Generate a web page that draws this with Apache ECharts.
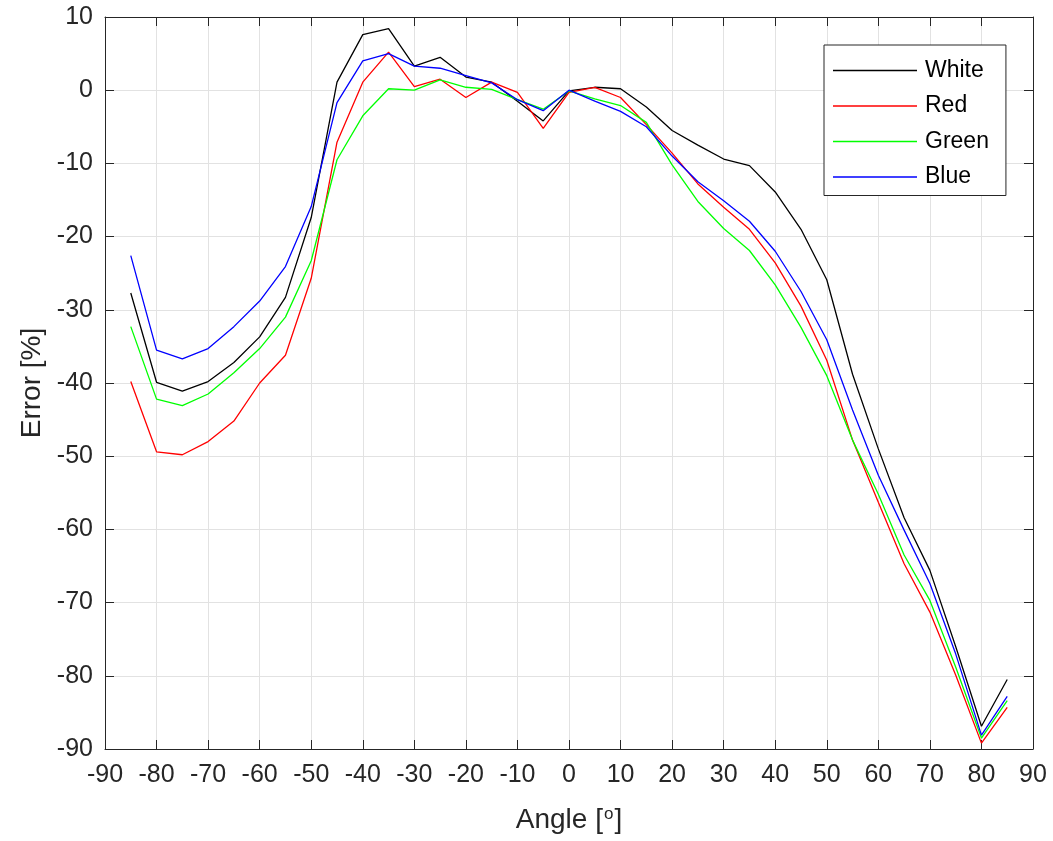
<!DOCTYPE html>
<html>
<head>
<meta charset="utf-8">
<script src="https://cdn.jsdelivr.net/npm/echarts@6/dist/echarts.min.js"></script>
<style>
html,body{margin:0;padding:0;background:#fff;}
#chart{width:1053px;height:841px;}
</style>
</head>
<body>
<div id="chart"></div>
<script>
var angles = [-85,-80,-75,-70,-65,-60,-55,-50,-45,-40,-35,-30,-25,-20,-15,-10,-5,0,5,10,15,20,25,30,35,40,45,50,55,60,65,70,75,80,85];
var white = [-27.7,-39.9,-41.1,-39.8,-37.2,-33.7,-28.3,-17.4,1.1,7.6,8.4,3.3,4.5,1.8,1.1,-1.5,-4.2,-0.1,0.4,0.2,-2.3,-5.5,-7.5,-9.4,-10.3,-13.9,-19.0,-25.9,-38.8,-49.0,-58.4,-65.6,-76.0,-86.9,-80.5];
var red = [-39.8,-49.4,-49.8,-48.0,-45.2,-40.0,-36.2,-25.7,-7.1,1.1,5.2,0.5,1.5,-1.0,1.1,-0.3,-5.2,-0.3,0.4,-1.0,-4.7,-8.6,-12.8,-16.0,-19.0,-23.6,-29.5,-36.9,-47.8,-56.3,-64.7,-71.3,-79.9,-89.2,-84.3];
var green = [-32.3,-42.2,-43.1,-41.5,-38.6,-35.3,-31.0,-23.3,-9.5,-3.5,0.2,0.0,1.4,0.4,0.1,-1.3,-2.6,-0.1,-1.2,-2.1,-4.4,-10.2,-15.2,-18.9,-21.9,-26.6,-32.4,-39.0,-47.8,-55.2,-63.5,-69.7,-78.8,-88.5,-83.4];
var blue = [-22.6,-35.5,-36.7,-35.3,-32.3,-28.8,-24.1,-15.9,-1.7,4.0,5.0,3.3,3.0,2.0,1.0,-1.3,-2.8,0.0,-1.5,-2.9,-5.0,-9.0,-12.5,-15.1,-17.9,-22.0,-27.5,-34.1,-43.7,-52.6,-60.1,-67.4,-77.0,-88.1,-82.8];
var seriesNames = ['White','Red','Green','Blue'];
var seriesColors = ['#000000','#ff0000','#00ff00','#0000ff'];
var seriesValues = [white, red, green, blue];

var FONT = '"Liberation Sans", Arial, Helvetica, sans-serif';
var AXC = '#262626';

function pairs(vals){ return angles.map(function(a,i){ return [a, vals[i]]; }); }

var chart = echarts.init(document.getElementById('chart'), null, {renderer:'canvas'});
var baseX = {type:'value', min:-90, max:90, interval:10};
var baseY = {type:'value', min:-90, max:10, interval:10};
var option = {
  backgroundColor:'#ffffff',
  animation:false,
  grid:{left:105, right:20, top:17, bottom:92, containLabel:false},
  xAxis:[
    Object.assign({}, baseX, {
      position:'bottom',
      name:'{t|Angle [}{s|o}{t|]}', nameLocation:'middle', nameGap:57,
      nameTextStyle:{rich:{t:{fontFamily:FONT,fontSize:28,color:AXC}, s:{fontFamily:FONT,fontSize:17,color:AXC,padding:[0,1,12,1]}}},
      axisLine:{show:true, onZero:false, lineStyle:{color:AXC,width:1}},
      axisTick:{show:true, inside:true, length:9, lineStyle:{color:AXC}},
      axisLabel:{fontFamily:FONT, fontSize:25, color:AXC, margin:14},
      splitLine:{show:true, lineStyle:{color:'#e2e2e2', width:1}}
    }),
    Object.assign({}, baseX, {
      position:'top',
      axisLine:{show:true, onZero:false, lineStyle:{color:AXC,width:1}},
      axisTick:{show:true, inside:true, length:9, lineStyle:{color:AXC}},
      axisLabel:{show:false},
      splitLine:{show:false}
    })
  ],
  yAxis:[
    Object.assign({}, baseY, {
      position:'left',
      name:'Error [%]', nameLocation:'middle', nameGap:56, nameRotate:90,
      nameTextStyle:{fontFamily:FONT, fontSize:28, color:AXC},
      axisLine:{show:true, onZero:false, lineStyle:{color:AXC,width:1}},
      axisTick:{show:true, inside:true, length:9, lineStyle:{color:AXC}},
      axisLabel:{fontFamily:FONT, fontSize:25, color:AXC, margin:12},
      splitLine:{show:true, lineStyle:{color:'#e2e2e2', width:1}}
    }),
    Object.assign({}, baseY, {
      position:'right',
      axisLine:{show:true, onZero:false, lineStyle:{color:AXC,width:1}},
      axisTick:{show:true, inside:true, length:9, lineStyle:{color:AXC}},
      axisLabel:{show:false},
      splitLine:{show:false}
    })
  ],
  legend:{
    show:true, orient:'vertical', left:824, top:45,
    data:seriesNames.map(function(n){ return {name:n, icon:'rect'}; }),
    itemWidth:84, itemHeight:1.5, itemGap:12.5,
    padding:[14,17,7,9],
    borderColor:AXC, borderWidth:1, backgroundColor:'#ffffff',
    textStyle:{fontFamily:FONT, fontSize:23, color:'#000', lineHeight:23, padding:[0,0,0,3]}
  },
  series: seriesNames.map(function(n,i){
    return {
      name:n, type:'line', xAxisIndex:0, yAxisIndex:0,
      data:pairs(seriesValues[i]),
      symbol:'none', showSymbol:false,
      lineStyle:{color:seriesColors[i], width:1.3},
      itemStyle:{color:seriesColors[i]},
      emphasis:{disabled:true}
    };
  })
};
chart.setOption(option);
</script>
</body>
</html>
